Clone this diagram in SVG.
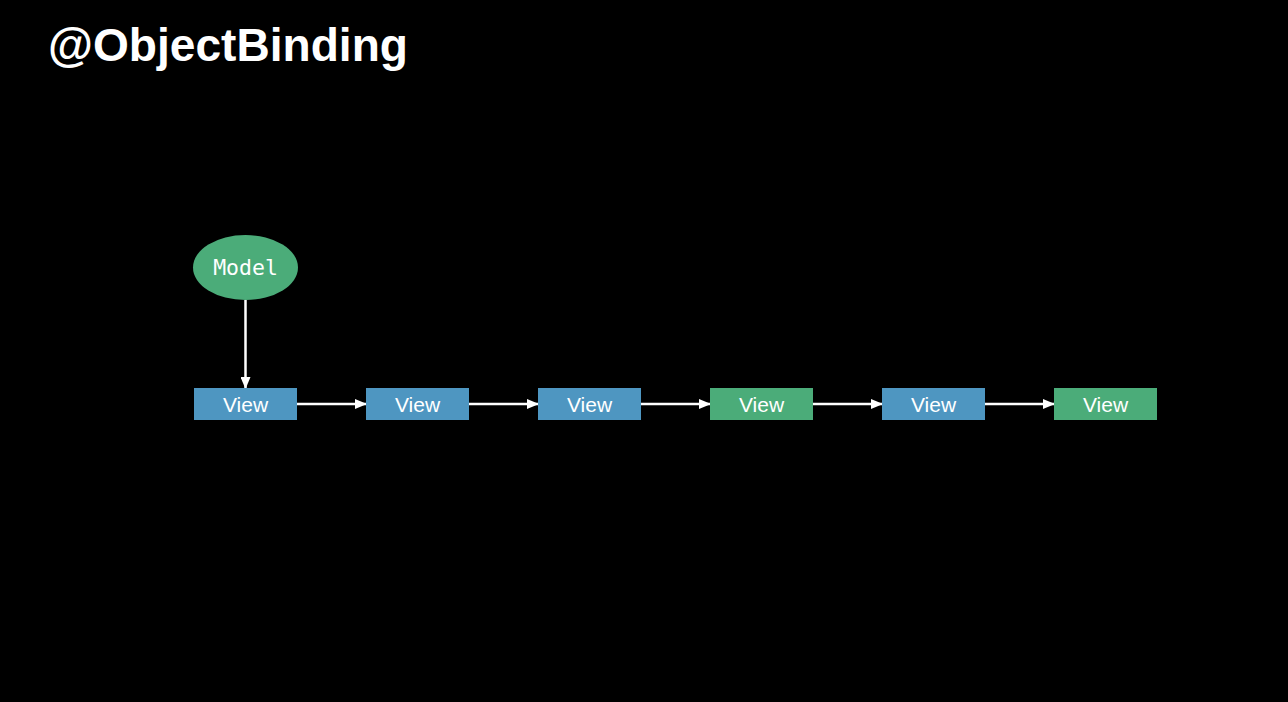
<svg xmlns="http://www.w3.org/2000/svg" width="1288" height="702" viewBox="0 0 1288 702">
<style>
.blue{fill:#4E96C1;}
.green{fill:#4BAC79;}
.lbl{fill:#fff;font-family:"Liberation Sans",Arial,sans-serif;font-size:21px;text-anchor:middle;}
.mono{fill:#fff;font-family:"DejaVu Sans Mono","Liberation Mono",monospace;font-size:21.5px;text-anchor:middle;}
.conn{stroke:#fff;stroke-width:2.5;fill:none;marker-end:url(#ah);}
</style>
<defs>
<marker id="ah" markerWidth="12" markerHeight="10" refX="11" refY="5" orient="auto" markerUnits="userSpaceOnUse">
<path d="M0,0 L12,5 L0,10 Z" fill="#fff"/>
</marker>
</defs>
<rect width="1288" height="702" fill="#000"/>
<text x="48" y="61" fill="#fff" font-family="'Liberation Sans',Arial,sans-serif" font-weight="bold" font-size="46" textLength="360" lengthAdjust="spacingAndGlyphs">@ObjectBinding</text>
<g id="connectors">
<line class="conn" x1="245.5" y1="300" x2="245.5" y2="388"/>
<line class="conn" x1="297" y1="404" x2="366" y2="404"/>
<line class="conn" x1="469" y1="404" x2="538" y2="404"/>
<line class="conn" x1="641" y1="404" x2="710" y2="404"/>
<line class="conn" x1="813" y1="404" x2="882" y2="404"/>
<line class="conn" x1="985" y1="404" x2="1054" y2="404"/>
</g>
<g id="model"><ellipse class="green" cx="245.5" cy="267.5" rx="52.5" ry="32.5"/><text class="mono" x="245.5" y="275">Model</text></g>
<g id="view1"><rect class="blue" x="194" y="388" width="103" height="32"/><text class="lbl" x="245.5" y="412">View</text></g>
<g id="view2"><rect class="blue" x="366" y="388" width="103" height="32"/><text class="lbl" x="417.5" y="412">View</text></g>
<g id="view3"><rect class="blue" x="538" y="388" width="103" height="32"/><text class="lbl" x="589.5" y="412">View</text></g>
<g id="view4"><rect class="green" x="710" y="388" width="103" height="32"/><text class="lbl" x="761.5" y="412">View</text></g>
<g id="view5"><rect class="blue" x="882" y="388" width="103" height="32"/><text class="lbl" x="933.5" y="412">View</text></g>
<g id="view6"><rect class="green" x="1054" y="388" width="103" height="32"/><text class="lbl" x="1105.5" y="412">View</text></g>
</svg>
